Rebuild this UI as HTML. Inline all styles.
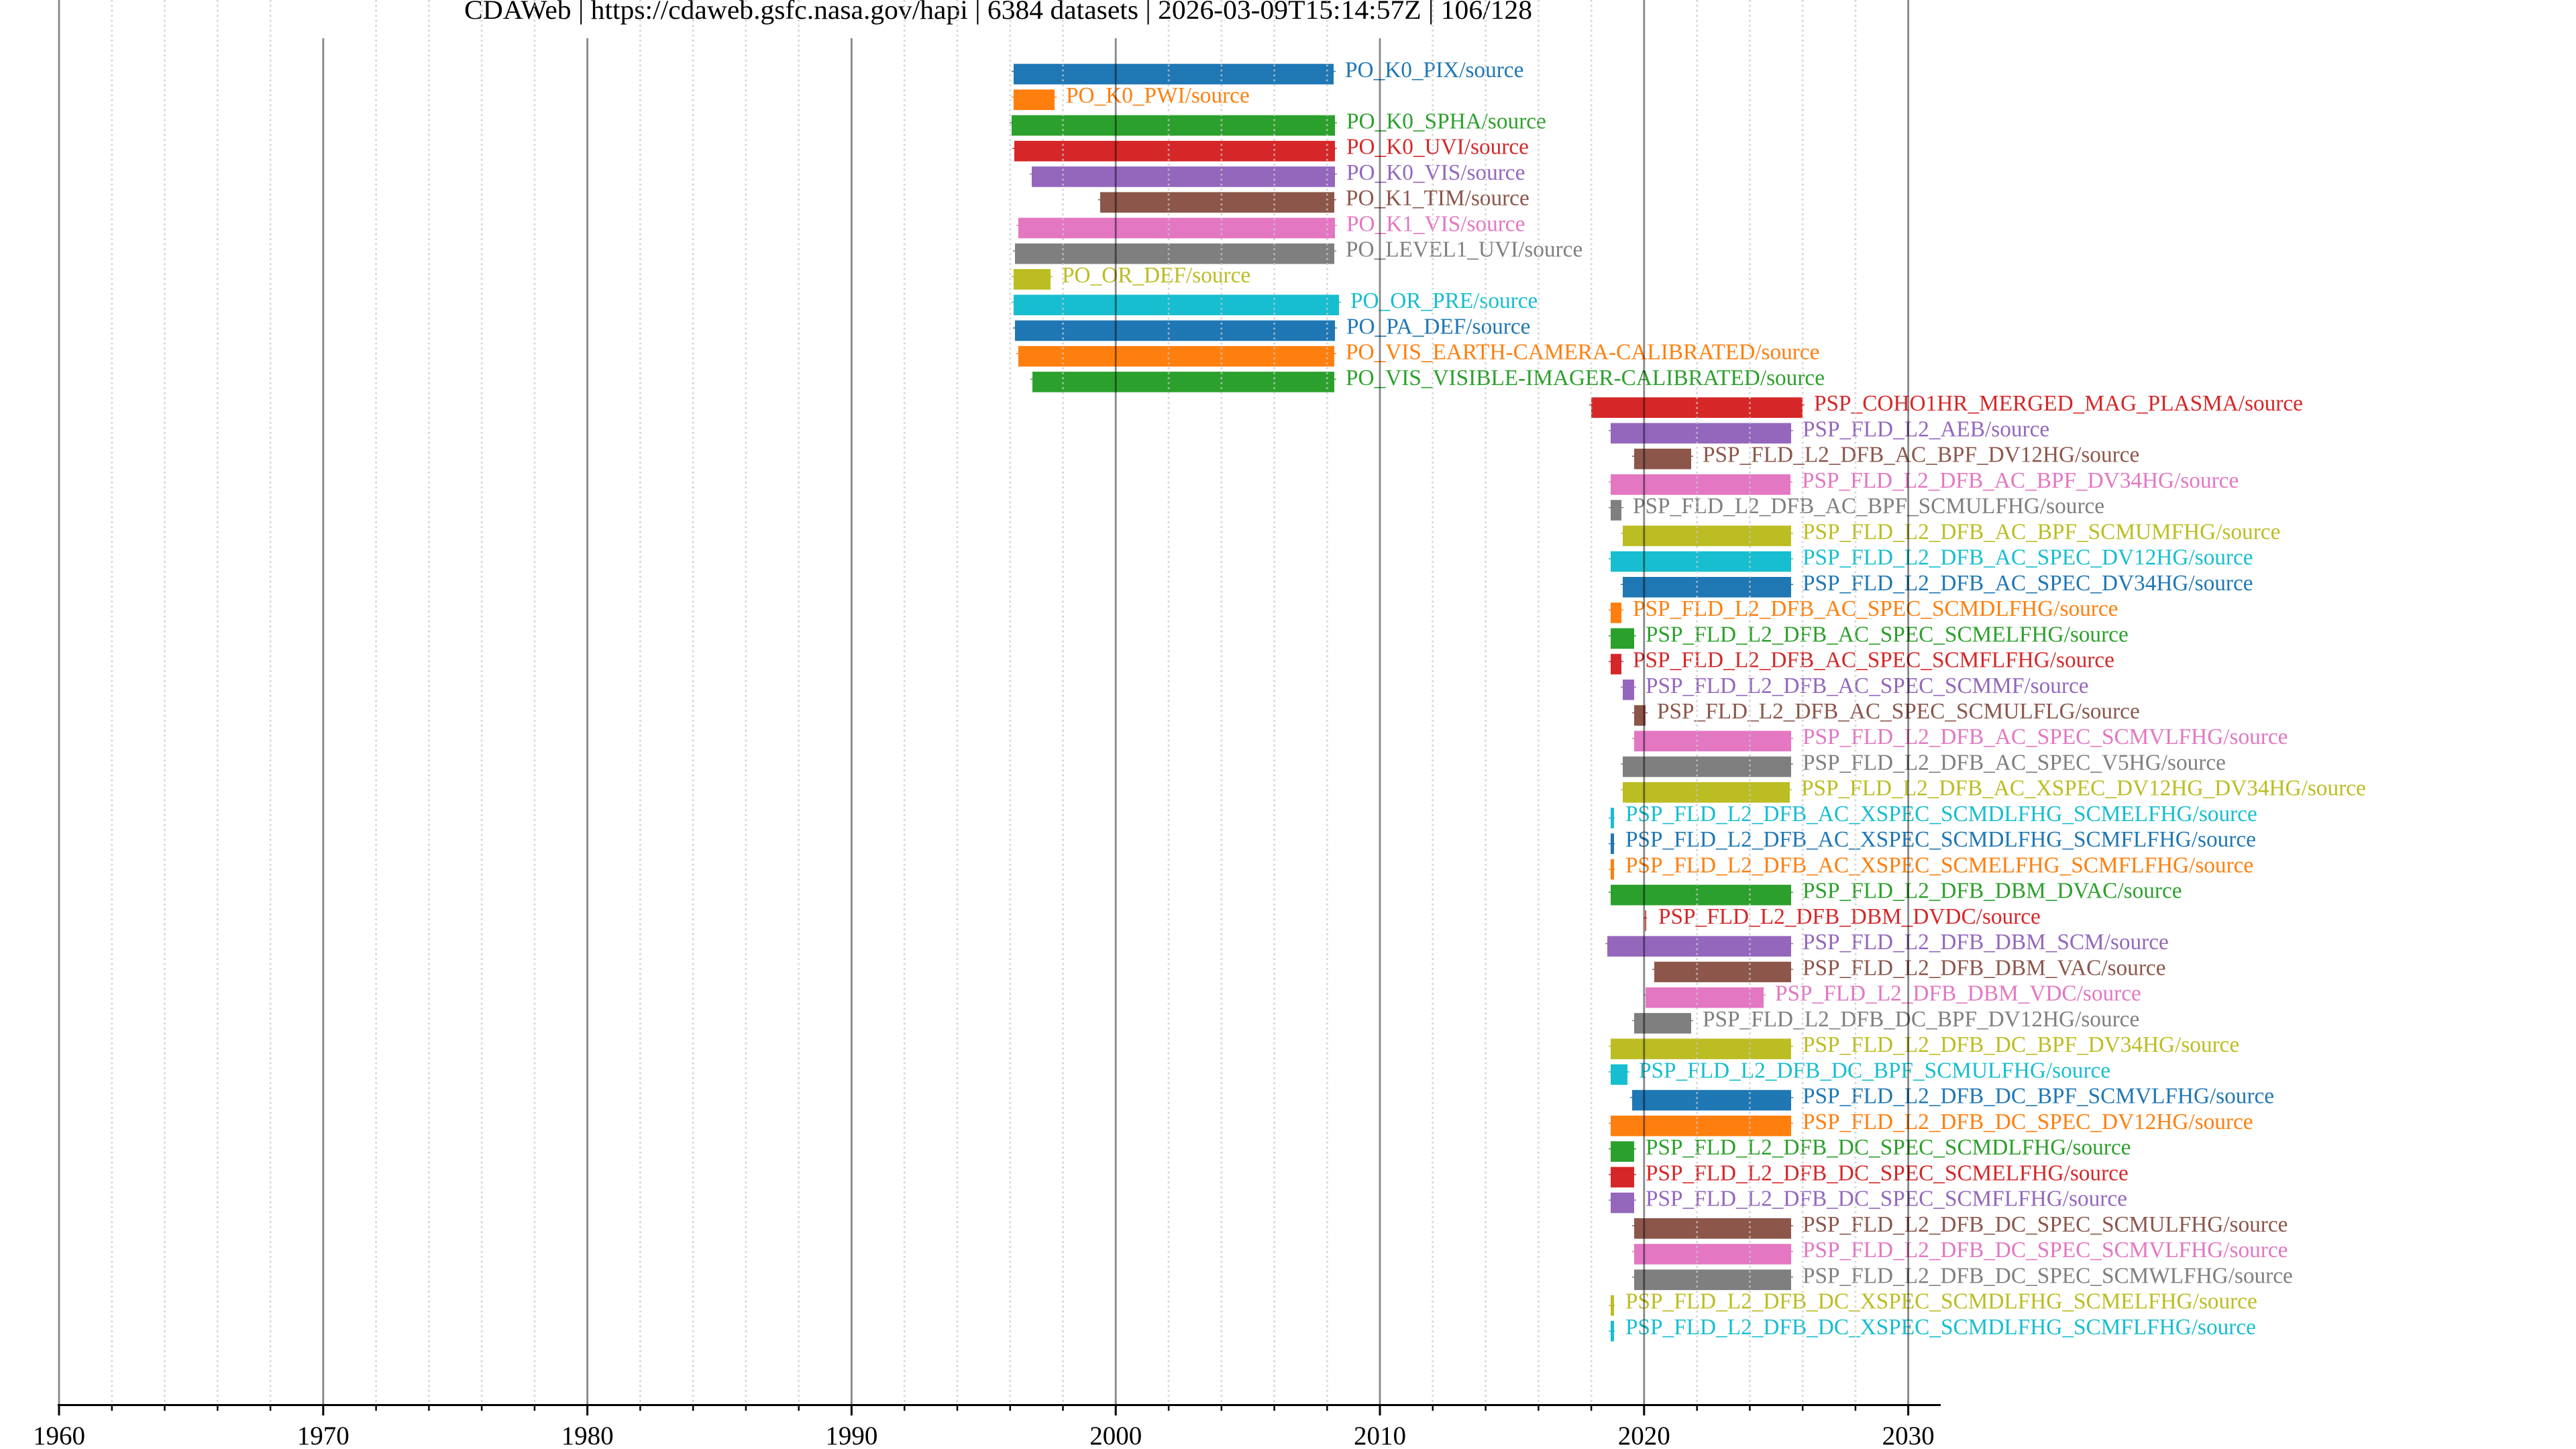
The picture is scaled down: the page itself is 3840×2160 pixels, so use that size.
<!DOCTYPE html>
<html><head><meta charset="utf-8"><style>
html,body{margin:0;padding:0;background:#fff;}
svg{display:block;}
text{font-family:"Liberation Serif","Times New Roman",serif;}
.l{font-size:33.3px;}
</style></head><body>
<svg xmlns="http://www.w3.org/2000/svg" width="3840" height="2160" viewBox="0 0 3840 2160">
<rect width="3840" height="2160" fill="#fff"/>
<text x="1488" y="28" font-size="40" text-anchor="middle" textLength="1592" lengthAdjust="spacingAndGlyphs" fill="#000">CDAWeb | https://cdaweb.gsfc.nasa.gov/hapi | 6384 datasets | 2026-03-09T15:14:57Z | 106/128</text>

<!-- rows -->
<g class="l">
<g transform="translate(0,110.5)" fill="#1f77b4" stroke="#1f77b4"><rect x="1511" y="-15.3" width="477" height="30.6" stroke="none"/><line x1="1508" x2="1991" y1="-4" y2="-4" stroke-width="1.5"/><text x="2005" y="4.5" stroke="none">PO_K0_PIX/source</text></g>
<g transform="translate(0,148.74)" fill="#ff7f0e" stroke="#ff7f0e"><rect x="1511" y="-15.3" width="61" height="30.6" stroke="none"/><line x1="1508" x2="1575" y1="-4" y2="-4" stroke-width="1.5"/><text x="1589" y="4.5" stroke="none">PO_K0_PWI/source</text></g>
<g transform="translate(0,186.98)" fill="#2ca02c" stroke="#2ca02c"><rect x="1508" y="-15.3" width="482" height="30.6" stroke="none"/><line x1="1505" x2="1993" y1="-4" y2="-4" stroke-width="1.5"/><text x="2007" y="4.5" stroke="none">PO_K0_SPHA/source</text></g>
<g transform="translate(0,225.22)" fill="#d62728" stroke="#d62728"><rect x="1512" y="-15.3" width="478" height="30.6" stroke="none"/><line x1="1509" x2="1993" y1="-4" y2="-4" stroke-width="1.5"/><text x="2007" y="4.5" stroke="none">PO_K0_UVI/source</text></g>
<g transform="translate(0,263.46)" fill="#9467bd" stroke="#9467bd"><rect x="1538" y="-15.3" width="452" height="30.6" stroke="none"/><line x1="1535" x2="1993" y1="-4" y2="-4" stroke-width="1.5"/><text x="2007" y="4.5" stroke="none">PO_K0_VIS/source</text></g>
<g transform="translate(0,301.7)" fill="#8c564b" stroke="#8c564b"><rect x="1640" y="-15.3" width="349" height="30.6" stroke="none"/><line x1="1637" x2="1992" y1="-4" y2="-4" stroke-width="1.5"/><text x="2006" y="4.5" stroke="none">PO_K1_TIM/source</text></g>
<g transform="translate(0,339.94)" fill="#e377c2" stroke="#e377c2"><rect x="1518" y="-15.3" width="472" height="30.6" stroke="none"/><line x1="1515" x2="1993" y1="-4" y2="-4" stroke-width="1.5"/><text x="2007" y="4.5" stroke="none">PO_K1_VIS/source</text></g>
<g transform="translate(0,378.18)" fill="#7f7f7f" stroke="#7f7f7f"><rect x="1513" y="-15.3" width="476" height="30.6" stroke="none"/><line x1="1510" x2="1992" y1="-4" y2="-4" stroke-width="1.5"/><text x="2006" y="4.5" stroke="none">PO_LEVEL1_UVI/source</text></g>
<g transform="translate(0,416.42)" fill="#bcbd22" stroke="#bcbd22"><rect x="1511" y="-15.3" width="55" height="30.6" stroke="none"/><line x1="1508" x2="1569" y1="-4" y2="-4" stroke-width="1.5"/><text x="1583" y="4.5" stroke="none">PO_OR_DEF/source</text></g>
<g transform="translate(0,454.66)" fill="#17becf" stroke="#17becf"><rect x="1511" y="-15.3" width="485" height="30.6" stroke="none"/><line x1="1508" x2="1999" y1="-4" y2="-4" stroke-width="1.5"/><text x="2013" y="4.5" stroke="none">PO_OR_PRE/source</text></g>
<g transform="translate(0,492.9)" fill="#1f77b4" stroke="#1f77b4"><rect x="1513" y="-15.3" width="477" height="30.6" stroke="none"/><line x1="1510" x2="1993" y1="-4" y2="-4" stroke-width="1.5"/><text x="2007" y="4.5" stroke="none">PO_PA_DEF/source</text></g>
<g transform="translate(0,531.14)" fill="#ff7f0e" stroke="#ff7f0e"><rect x="1518" y="-15.3" width="471" height="30.6" stroke="none"/><line x1="1515" x2="1992" y1="-4" y2="-4" stroke-width="1.5"/><text x="2006" y="4.5" stroke="none">PO_VIS_EARTH-CAMERA-CALIBRATED/source</text></g>
<g transform="translate(0,569.38)" fill="#2ca02c" stroke="#2ca02c"><rect x="1539" y="-15.3" width="450" height="30.6" stroke="none"/><line x1="1536" x2="1992" y1="-4" y2="-4" stroke-width="1.5"/><text x="2006" y="4.5" stroke="none">PO_VIS_VISIBLE-IMAGER-CALIBRATED/source</text></g>
<g transform="translate(0,607.62)" fill="#d62728" stroke="#d62728"><rect x="2372" y="-15.3" width="315" height="30.6" stroke="none"/><line x1="2369" x2="2690" y1="-4" y2="-4" stroke-width="1.5"/><text x="2704" y="4.5" stroke="none">PSP_COHO1HR_MERGED_MAG_PLASMA/source</text></g>
<g transform="translate(0,645.86)" fill="#9467bd" stroke="#9467bd"><rect x="2401" y="-15.3" width="269" height="30.6" stroke="none"/><line x1="2398" x2="2673" y1="-4" y2="-4" stroke-width="1.5"/><text x="2687" y="4.5" stroke="none">PSP_FLD_L2_AEB/source</text></g>
<g transform="translate(0,684.1)" fill="#8c564b" stroke="#8c564b"><rect x="2436" y="-15.3" width="85" height="30.6" stroke="none"/><line x1="2433" x2="2524" y1="-4" y2="-4" stroke-width="1.5"/><text x="2538" y="4.5" stroke="none">PSP_FLD_L2_DFB_AC_BPF_DV12HG/source</text></g>
<g transform="translate(0,722.34)" fill="#e377c2" stroke="#e377c2"><rect x="2401" y="-15.3" width="268" height="30.6" stroke="none"/><line x1="2398" x2="2672" y1="-4" y2="-4" stroke-width="1.5"/><text x="2686" y="4.5" stroke="none">PSP_FLD_L2_DFB_AC_BPF_DV34HG/source</text></g>
<g transform="translate(0,760.58)" fill="#7f7f7f" stroke="#7f7f7f"><rect x="2401" y="-15.3" width="16" height="30.6" stroke="none"/><line x1="2398" x2="2420" y1="-4" y2="-4" stroke-width="1.5"/><text x="2434" y="4.5" stroke="none">PSP_FLD_L2_DFB_AC_BPF_SCMULFHG/source</text></g>
<g transform="translate(0,798.82)" fill="#bcbd22" stroke="#bcbd22"><rect x="2419" y="-15.3" width="251" height="30.6" stroke="none"/><line x1="2416" x2="2673" y1="-4" y2="-4" stroke-width="1.5"/><text x="2687" y="4.5" stroke="none">PSP_FLD_L2_DFB_AC_BPF_SCMUMFHG/source</text></g>
<g transform="translate(0,837.06)" fill="#17becf" stroke="#17becf"><rect x="2401" y="-15.3" width="269" height="30.6" stroke="none"/><line x1="2398" x2="2673" y1="-4" y2="-4" stroke-width="1.5"/><text x="2687" y="4.5" stroke="none">PSP_FLD_L2_DFB_AC_SPEC_DV12HG/source</text></g>
<g transform="translate(0,875.3)" fill="#1f77b4" stroke="#1f77b4"><rect x="2419" y="-15.3" width="251" height="30.6" stroke="none"/><line x1="2416" x2="2673" y1="-4" y2="-4" stroke-width="1.5"/><text x="2687" y="4.5" stroke="none">PSP_FLD_L2_DFB_AC_SPEC_DV34HG/source</text></g>
<g transform="translate(0,913.54)" fill="#ff7f0e" stroke="#ff7f0e"><rect x="2401" y="-15.3" width="16" height="30.6" stroke="none"/><line x1="2398" x2="2420" y1="-4" y2="-4" stroke-width="1.5"/><text x="2434" y="4.5" stroke="none">PSP_FLD_L2_DFB_AC_SPEC_SCMDLFHG/source</text></g>
<g transform="translate(0,951.78)" fill="#2ca02c" stroke="#2ca02c"><rect x="2401" y="-15.3" width="35" height="30.6" stroke="none"/><line x1="2398" x2="2439" y1="-4" y2="-4" stroke-width="1.5"/><text x="2453" y="4.5" stroke="none">PSP_FLD_L2_DFB_AC_SPEC_SCMELFHG/source</text></g>
<g transform="translate(0,990.02)" fill="#d62728" stroke="#d62728"><rect x="2401" y="-15.3" width="16" height="30.6" stroke="none"/><line x1="2398" x2="2420" y1="-4" y2="-4" stroke-width="1.5"/><text x="2434" y="4.5" stroke="none">PSP_FLD_L2_DFB_AC_SPEC_SCMFLFHG/source</text></g>
<g transform="translate(0,1028.26)" fill="#9467bd" stroke="#9467bd"><rect x="2419" y="-15.3" width="17" height="30.6" stroke="none"/><line x1="2416" x2="2439" y1="-4" y2="-4" stroke-width="1.5"/><text x="2453" y="4.5" stroke="none">PSP_FLD_L2_DFB_AC_SPEC_SCMMF/source</text></g>
<g transform="translate(0,1066.5)" fill="#8c564b" stroke="#8c564b"><rect x="2436" y="-15.3" width="17" height="30.6" stroke="none"/><line x1="2433" x2="2456" y1="-4" y2="-4" stroke-width="1.5"/><text x="2470" y="4.5" stroke="none">PSP_FLD_L2_DFB_AC_SPEC_SCMULFLG/source</text></g>
<g transform="translate(0,1104.74)" fill="#e377c2" stroke="#e377c2"><rect x="2436" y="-15.3" width="234" height="30.6" stroke="none"/><line x1="2433" x2="2673" y1="-4" y2="-4" stroke-width="1.5"/><text x="2687" y="4.5" stroke="none">PSP_FLD_L2_DFB_AC_SPEC_SCMVLFHG/source</text></g>
<g transform="translate(0,1142.98)" fill="#7f7f7f" stroke="#7f7f7f"><rect x="2419" y="-15.3" width="251" height="30.6" stroke="none"/><line x1="2416" x2="2673" y1="-4" y2="-4" stroke-width="1.5"/><text x="2687" y="4.5" stroke="none">PSP_FLD_L2_DFB_AC_SPEC_V5HG/source</text></g>
<g transform="translate(0,1181.22)" fill="#bcbd22" stroke="#bcbd22"><rect x="2419" y="-15.3" width="249" height="30.6" stroke="none"/><line x1="2416" x2="2671" y1="-4" y2="-4" stroke-width="1.5"/><text x="2685" y="4.5" stroke="none">PSP_FLD_L2_DFB_AC_XSPEC_DV12HG_DV34HG/source</text></g>
<g transform="translate(0,1219.46)" fill="#17becf" stroke="#17becf"><rect x="2401" y="-15.3" width="5" height="30.6" stroke="none"/><line x1="2398" x2="2407" y1="0" y2="0" stroke-width="1.5"/><text x="2423" y="4.5" stroke="none">PSP_FLD_L2_DFB_AC_XSPEC_SCMDLFHG_SCMELFHG/source</text></g>
<g transform="translate(0,1257.7)" fill="#1f77b4" stroke="#1f77b4"><rect x="2401" y="-15.3" width="5" height="30.6" stroke="none"/><line x1="2398" x2="2407" y1="0" y2="0" stroke-width="1.5"/><text x="2423" y="4.5" stroke="none">PSP_FLD_L2_DFB_AC_XSPEC_SCMDLFHG_SCMFLFHG/source</text></g>
<g transform="translate(0,1295.94)" fill="#ff7f0e" stroke="#ff7f0e"><rect x="2401" y="-15.3" width="5" height="30.6" stroke="none"/><line x1="2398" x2="2407" y1="0" y2="0" stroke-width="1.5"/><text x="2423" y="4.5" stroke="none">PSP_FLD_L2_DFB_AC_XSPEC_SCMELFHG_SCMFLFHG/source</text></g>
<g transform="translate(0,1334.18)" fill="#2ca02c" stroke="#2ca02c"><rect x="2401" y="-15.3" width="269" height="30.6" stroke="none"/><line x1="2398" x2="2673" y1="-4" y2="-4" stroke-width="1.5"/><text x="2687" y="4.5" stroke="none">PSP_FLD_L2_DFB_DBM_DVAC/source</text></g>
<g transform="translate(0,1372.42)" fill="#d62728" stroke="#d62728"><rect x="2452.5" y="-15.3" width="1.5" height="30.6" stroke="none"/><line x1="2450" x2="2455" y1="-4" y2="-4" stroke-width="1.5"/><text x="2472" y="4.5" stroke="none">PSP_FLD_L2_DFB_DBM_DVDC/source</text></g>
<g transform="translate(0,1410.66)" fill="#9467bd" stroke="#9467bd"><rect x="2396" y="-15.3" width="274" height="30.6" stroke="none"/><line x1="2393" x2="2673" y1="-4" y2="-4" stroke-width="1.5"/><text x="2687" y="4.5" stroke="none">PSP_FLD_L2_DFB_DBM_SCM/source</text></g>
<g transform="translate(0,1448.9)" fill="#8c564b" stroke="#8c564b"><rect x="2466" y="-15.3" width="204" height="30.6" stroke="none"/><line x1="2463" x2="2673" y1="-4" y2="-4" stroke-width="1.5"/><text x="2687" y="4.5" stroke="none">PSP_FLD_L2_DFB_DBM_VAC/source</text></g>
<g transform="translate(0,1487.14)" fill="#e377c2" stroke="#e377c2"><rect x="2453" y="-15.3" width="176" height="30.6" stroke="none"/><line x1="2450" x2="2632" y1="-4" y2="-4" stroke-width="1.5"/><text x="2646" y="4.5" stroke="none">PSP_FLD_L2_DFB_DBM_VDC/source</text></g>
<g transform="translate(0,1525.38)" fill="#7f7f7f" stroke="#7f7f7f"><rect x="2436" y="-15.3" width="85" height="30.6" stroke="none"/><line x1="2433" x2="2524" y1="-4" y2="-4" stroke-width="1.5"/><text x="2538" y="4.5" stroke="none">PSP_FLD_L2_DFB_DC_BPF_DV12HG/source</text></g>
<g transform="translate(0,1563.62)" fill="#bcbd22" stroke="#bcbd22"><rect x="2401" y="-15.3" width="269" height="30.6" stroke="none"/><line x1="2398" x2="2673" y1="-4" y2="-4" stroke-width="1.5"/><text x="2687" y="4.5" stroke="none">PSP_FLD_L2_DFB_DC_BPF_DV34HG/source</text></g>
<g transform="translate(0,1601.86)" fill="#17becf" stroke="#17becf"><rect x="2401" y="-15.3" width="25" height="30.6" stroke="none"/><line x1="2398" x2="2429" y1="-4" y2="-4" stroke-width="1.5"/><text x="2443" y="4.5" stroke="none">PSP_FLD_L2_DFB_DC_BPF_SCMULFHG/source</text></g>
<g transform="translate(0,1640.1)" fill="#1f77b4" stroke="#1f77b4"><rect x="2433" y="-15.3" width="237" height="30.6" stroke="none"/><line x1="2430" x2="2673" y1="-4" y2="-4" stroke-width="1.5"/><text x="2687" y="4.5" stroke="none">PSP_FLD_L2_DFB_DC_BPF_SCMVLFHG/source</text></g>
<g transform="translate(0,1678.34)" fill="#ff7f0e" stroke="#ff7f0e"><rect x="2401" y="-15.3" width="269" height="30.6" stroke="none"/><line x1="2398" x2="2673" y1="-4" y2="-4" stroke-width="1.5"/><text x="2687" y="4.5" stroke="none">PSP_FLD_L2_DFB_DC_SPEC_DV12HG/source</text></g>
<g transform="translate(0,1716.58)" fill="#2ca02c" stroke="#2ca02c"><rect x="2401" y="-15.3" width="35" height="30.6" stroke="none"/><line x1="2398" x2="2439" y1="-4" y2="-4" stroke-width="1.5"/><text x="2453" y="4.5" stroke="none">PSP_FLD_L2_DFB_DC_SPEC_SCMDLFHG/source</text></g>
<g transform="translate(0,1754.82)" fill="#d62728" stroke="#d62728"><rect x="2401" y="-15.3" width="35" height="30.6" stroke="none"/><line x1="2398" x2="2439" y1="-4" y2="-4" stroke-width="1.5"/><text x="2453" y="4.5" stroke="none">PSP_FLD_L2_DFB_DC_SPEC_SCMELFHG/source</text></g>
<g transform="translate(0,1793.06)" fill="#9467bd" stroke="#9467bd"><rect x="2401" y="-15.3" width="35" height="30.6" stroke="none"/><line x1="2398" x2="2439" y1="-4" y2="-4" stroke-width="1.5"/><text x="2453" y="4.5" stroke="none">PSP_FLD_L2_DFB_DC_SPEC_SCMFLFHG/source</text></g>
<g transform="translate(0,1831.3)" fill="#8c564b" stroke="#8c564b"><rect x="2436" y="-15.3" width="234" height="30.6" stroke="none"/><line x1="2433" x2="2673" y1="-4" y2="-4" stroke-width="1.5"/><text x="2687" y="4.5" stroke="none">PSP_FLD_L2_DFB_DC_SPEC_SCMULFHG/source</text></g>
<g transform="translate(0,1869.54)" fill="#e377c2" stroke="#e377c2"><rect x="2436" y="-15.3" width="234" height="30.6" stroke="none"/><line x1="2433" x2="2673" y1="-4" y2="-4" stroke-width="1.5"/><text x="2687" y="4.5" stroke="none">PSP_FLD_L2_DFB_DC_SPEC_SCMVLFHG/source</text></g>
<g transform="translate(0,1907.78)" fill="#7f7f7f" stroke="#7f7f7f"><rect x="2436" y="-15.3" width="234" height="30.6" stroke="none"/><line x1="2433" x2="2673" y1="-4" y2="-4" stroke-width="1.5"/><text x="2687" y="4.5" stroke="none">PSP_FLD_L2_DFB_DC_SPEC_SCMWLFHG/source</text></g>
<g transform="translate(0,1946.02)" fill="#bcbd22" stroke="#bcbd22"><rect x="2401" y="-15.3" width="5" height="30.6" stroke="none"/><line x1="2398" x2="2407" y1="0" y2="0" stroke-width="1.5"/><text x="2423" y="4.5" stroke="none">PSP_FLD_L2_DFB_DC_XSPEC_SCMDLFHG_SCMELFHG/source</text></g>
<g transform="translate(0,1984.26)" fill="#17becf" stroke="#17becf"><rect x="2401" y="-15.3" width="5" height="30.6" stroke="none"/><line x1="2398" x2="2407" y1="0" y2="0" stroke-width="1.5"/><text x="2423" y="4.5" stroke="none">PSP_FLD_L2_DFB_DC_XSPEC_SCMDLFHG_SCMFLFHG/source</text></g>
</g>

<!-- minor gridlines -->
<g stroke="rgb(200,200,200)" stroke-opacity="0.75" stroke-width="2.8" stroke-dasharray="2.8 4.6">
<line x1="166.8" x2="166.8" y1="0" y2="2094"/>
<line x1="245.5" x2="245.5" y1="0" y2="2094"/>
<line x1="324.3" x2="324.3" y1="0" y2="2094"/>
<line x1="403.1" x2="403.1" y1="0" y2="2094"/>
<line x1="560.6" x2="560.6" y1="0" y2="2094"/>
<line x1="639.4" x2="639.4" y1="0" y2="2094"/>
<line x1="718.1" x2="718.1" y1="0" y2="2094"/>
<line x1="796.9" x2="796.9" y1="0" y2="2094"/>
<line x1="954.4" x2="954.4" y1="0" y2="2094"/>
<line x1="1033.2" x2="1033.2" y1="0" y2="2094"/>
<line x1="1111.9" x2="1111.9" y1="0" y2="2094"/>
<line x1="1190.7" x2="1190.7" y1="0" y2="2094"/>
<line x1="1348.3" x2="1348.3" y1="0" y2="2094"/>
<line x1="1427.0" x2="1427.0" y1="0" y2="2094"/>
<line x1="1505.8" x2="1505.8" y1="0" y2="2094"/>
<line x1="1584.5" x2="1584.5" y1="0" y2="2094"/>
<line x1="1742.1" x2="1742.1" y1="0" y2="2094"/>
<line x1="1820.8" x2="1820.8" y1="0" y2="2094"/>
<line x1="1899.6" x2="1899.6" y1="0" y2="2094"/>
<line x1="1978.3" x2="1978.3" y1="0" y2="2094"/>
<line x1="2135.8" x2="2135.8" y1="0" y2="2094"/>
<line x1="2214.6" x2="2214.6" y1="0" y2="2094"/>
<line x1="2293.4" x2="2293.4" y1="0" y2="2094"/>
<line x1="2372.1" x2="2372.1" y1="0" y2="2094"/>
<line x1="2529.7" x2="2529.7" y1="0" y2="2094"/>
<line x1="2608.4" x2="2608.4" y1="0" y2="2094"/>
<line x1="2687.2" x2="2687.2" y1="0" y2="2094"/>
<line x1="2765.9" x2="2765.9" y1="0" y2="2094"/>
</g>

<!-- major gridlines -->
<g stroke="#000" stroke-opacity="0.47" stroke-width="2.8">
<line x1="88" x2="88" y1="0" y2="2094"/>
<line x1="481.8" x2="481.8" y1="57" y2="2094"/>
<line x1="875.6" x2="875.6" y1="57" y2="2094"/>
<line x1="1269.4" x2="1269.4" y1="57" y2="2094"/>
<line x1="1663.2" x2="1663.2" y1="57" y2="2094"/>
<line x1="2057" x2="2057" y1="57" y2="2094"/>
<line x1="2450.8" x2="2450.8" y1="0" y2="2094"/>
<line x1="2844.6" x2="2844.6" y1="0" y2="2094"/>
</g>

<!-- axis -->
<line x1="86" x2="2893" y1="2094.5" y2="2094.5" stroke="#000" stroke-width="3"/>
<g stroke="#000" stroke-width="3">
<line x1="88" x2="88" y1="2094" y2="2110"/>
<line x1="481.8" x2="481.8" y1="2094" y2="2110"/>
<line x1="875.6" x2="875.6" y1="2094" y2="2110"/>
<line x1="1269.4" x2="1269.4" y1="2094" y2="2110"/>
<line x1="1663.2" x2="1663.2" y1="2094" y2="2110"/>
<line x1="2057" x2="2057" y1="2094" y2="2110"/>
<line x1="2450.8" x2="2450.8" y1="2094" y2="2110"/>
<line x1="2844.6" x2="2844.6" y1="2094" y2="2110"/>
</g>
<g stroke="#000" stroke-width="2.5">
<line x1="166.8" x2="166.8" y1="2094" y2="2103"/>
<line x1="245.5" x2="245.5" y1="2094" y2="2103"/>
<line x1="324.3" x2="324.3" y1="2094" y2="2103"/>
<line x1="403.1" x2="403.1" y1="2094" y2="2103"/>
<line x1="560.6" x2="560.6" y1="2094" y2="2103"/>
<line x1="639.4" x2="639.4" y1="2094" y2="2103"/>
<line x1="718.1" x2="718.1" y1="2094" y2="2103"/>
<line x1="796.9" x2="796.9" y1="2094" y2="2103"/>
<line x1="954.4" x2="954.4" y1="2094" y2="2103"/>
<line x1="1033.2" x2="1033.2" y1="2094" y2="2103"/>
<line x1="1111.9" x2="1111.9" y1="2094" y2="2103"/>
<line x1="1190.7" x2="1190.7" y1="2094" y2="2103"/>
<line x1="1348.3" x2="1348.3" y1="2094" y2="2103"/>
<line x1="1427.0" x2="1427.0" y1="2094" y2="2103"/>
<line x1="1505.8" x2="1505.8" y1="2094" y2="2103"/>
<line x1="1584.5" x2="1584.5" y1="2094" y2="2103"/>
<line x1="1742.1" x2="1742.1" y1="2094" y2="2103"/>
<line x1="1820.8" x2="1820.8" y1="2094" y2="2103"/>
<line x1="1899.6" x2="1899.6" y1="2094" y2="2103"/>
<line x1="1978.3" x2="1978.3" y1="2094" y2="2103"/>
<line x1="2135.8" x2="2135.8" y1="2094" y2="2103"/>
<line x1="2214.6" x2="2214.6" y1="2094" y2="2103"/>
<line x1="2293.4" x2="2293.4" y1="2094" y2="2103"/>
<line x1="2372.1" x2="2372.1" y1="2094" y2="2103"/>
<line x1="2529.7" x2="2529.7" y1="2094" y2="2103"/>
<line x1="2608.4" x2="2608.4" y1="2094" y2="2103"/>
<line x1="2687.2" x2="2687.2" y1="2094" y2="2103"/>
<line x1="2765.9" x2="2765.9" y1="2094" y2="2103"/>
</g>
<g font-size="39" text-anchor="middle" fill="#000">
<text x="88" y="2153">1960</text>
<text x="481.8" y="2153">1970</text>
<text x="875.6" y="2153">1980</text>
<text x="1269.4" y="2153">1990</text>
<text x="1663.2" y="2153">2000</text>
<text x="2057" y="2153">2010</text>
<text x="2450.8" y="2153">2020</text>
<text x="2844.6" y="2153">2030</text>
</g>
</svg>
</body></html>
